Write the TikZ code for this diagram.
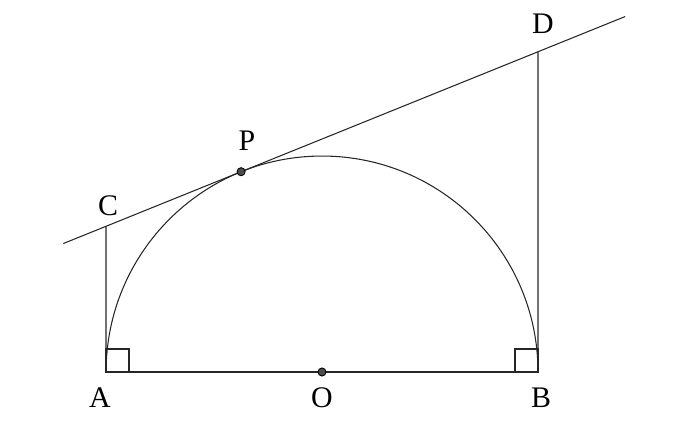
\documentclass[tikz,border=0pt]{standalone}
\usepackage{fontspec}
\setmainfont{Liberation Serif}
\usetikzlibrary{calc}
\tikzstyle{thinLine} = [line width=0.6pt, draw=black!85]
\tikzstyle{ptLabel} = [font=\fontsize{17}{20}\selectfont, inner sep=0pt]
\tikzstyle{dot} = [circle, fill=black!70, draw=black, line width=0.5pt, inner sep=0pt, minimum size=4.6pt]

\begin{document}
\begin{tikzpicture}[x=0.02cm, y=0.02cm]
		\useasboundingbox (0,0) rectangle (677,439);
		\coordinate (O) at (322,67);
		\coordinate (A) at (106,67);
		\coordinate (B) at (538,67);
		\coordinate (A1) at (106,167);
		\coordinate (B1) at (538,167);
		\coordinate (P) at ($(O)+(112:216)$);
		\coordinate (Q) at ($(P)+(22:100)$);
		\coordinate (C) at (intersection of P--Q and A--A1);
		\coordinate (D) at (intersection of P--Q and B--B1);
		\coordinate (lineL) at ($(C)+(202:46)$);
		\coordinate (lineR) at ($(D)+(22:94)$);
		\draw [thinLine] (B) arc (0:180:4.32cm);
		\draw [thinLine] (A) -- (B);
		\draw [thinLine] (A) -- (C);
		\draw [thinLine] (B) -- (D);
		\draw [thinLine] (lineL) -- (lineR);
		\draw [thinLine] (A) rectangle ++(23,23);
		\draw [thinLine] (B) rectangle ++(-23,23);
		\node (dotP) [dot] at (P) {};
		\node (dotO) [dot] at (O) {};
		\node (labA) [ptLabel] at (100,41) {A};
		\node (labB) [ptLabel] at (541,41) {B};
		\node (labO) [ptLabel] at (322,41) {O};
		\node (labC) [ptLabel] at (108,233) {C};
		\node (labD) [ptLabel] at (543,415) {D};
		\node (labP) [ptLabel] at (247,298) {P};
	\end{tikzpicture}
\end{document}
